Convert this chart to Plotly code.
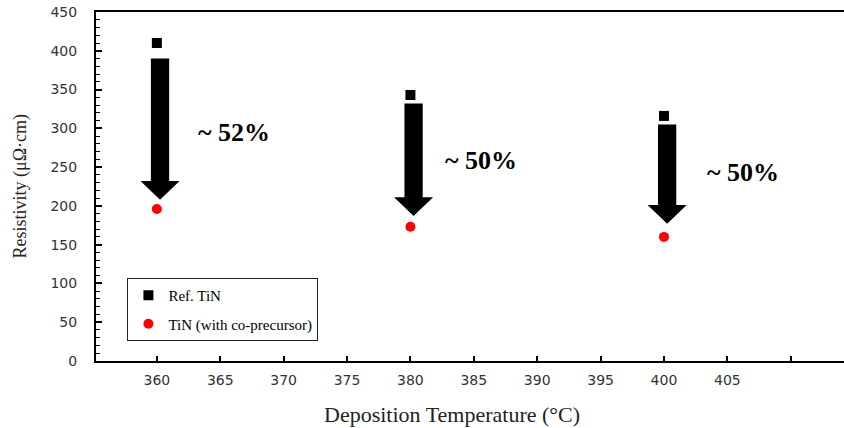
import plotly.graph_objects as go

temps = [360, 380, 400]
ref_tin = [410, 343, 316]
co_tin = [196, 173, 160]
reduction_labels = ["~ 52%", "~ 50%", "~ 50%"]
arrow_top = [390, 332, 305]
arrow_tip = [208, 187, 177]
label_x = [363.1, 382.6, 403.2]
label_y = [295, 258, 243]
x_ticks = [360, 365, 370, 375, 380, 385, 390, 395, 400, 405, 410]
x_ticklabels = ["360", "365", "370", "375", "380", "385", "390", "395", "400", "405", ""]
y_ticks = [0, 50, 100, 150, 200, 250, 300, 350, 400, 450]

fig = go.Figure()
fig.add_trace(go.Scatter(x=temps, y=ref_tin, mode="markers", name="Ref. TiN",
                         legendgroup="a",
                         marker=dict(symbol="square", size=10, color="black")))
fig.add_trace(go.Scatter(x=temps, y=co_tin, mode="markers", name="TiN (with co-precursor)",
                         legendgroup="b",
                         marker=dict(symbol="circle", size=10, color="#ff0000")))

shapes = []
off = 0.25
sw = 0.72
hw = 1.54
hh = 24
for x, top, tip in zip(temps, arrow_top, arrow_tip):
    cx = x + off
    hb = tip + hh
    path = (f"M {cx-sw} {top} L {cx+sw} {top} L {cx+sw} {hb} L {cx+hw} {hb} "
            f"L {cx} {tip} L {cx-hw} {hb} L {cx-sw} {hb} Z")
    shapes.append(dict(type="path", path=path, xref="x", yref="y",
                       fillcolor="black", line=dict(color="black", width=0)))

annotations = []
for lx, ly, t in zip(label_x, label_y, reduction_labels):
    annotations.append(dict(x=lx, y=ly, xref="x", yref="y", text=t, showarrow=False,
                            xanchor="left", yanchor="middle",
                            font=dict(family="Liberation Serif", size=26, color="black", weight="bold")))
annotations.append(dict(x=0, y=0.5, xref="paper", yref="paper", xshift=-76,
                        text="Resistivity (μΩ·cm)", textangle=-90, showarrow=False,
                        xanchor="center", yanchor="middle",
                        font=dict(family="Liberation Serif", size=18, color="#222")))
annotations.append(dict(x=0.476, y=0, xref="paper", yref="paper", yshift=-53,
                        text="Deposition Temperature (°C)", showarrow=False,
                        xanchor="center", yanchor="middle",
                        font=dict(family="Liberation Serif", size=22, color="#222")))

fig.update_layout(
    width=844, height=428,
    margin=dict(l=96, r=0, t=12, b=67, autoexpand=False),
    plot_bgcolor="white", paper_bgcolor="white",
    shapes=shapes, annotations=annotations,
    legend=dict(x=0.042, y=0.238, xanchor="left", yanchor="top",
                bordercolor="#222", borderwidth=1, bgcolor="white",
                tracegroupgap=6,
                font=dict(family="Liberation Serif", size=15, color="black")),
    xaxis=dict(range=[355.2, 414.2], tickvals=x_ticks, ticktext=x_ticklabels,
               showgrid=False, zeroline=False, showline=True, linecolor="black",
               linewidth=2, mirror=True, ticks="inside", ticklen=5, tickwidth=1.5,
               tickcolor="black", ticklabelstandoff=5, ticklabeloverflow="allow",
               automargin=False,
               tickfont=dict(family="DejaVu Sans", size=14, color="#333")),
    yaxis=dict(range=[0, 450], tickvals=y_ticks,
               showgrid=False, zeroline=False, showline=True, linecolor="black",
               linewidth=2, ticks="inside", ticklen=6, tickwidth=1.5,
               tickcolor="black", ticklabelstandoff=14, ticklabeloverflow="allow",
               automargin=False,
               minor=dict(dtick=10, ticks="inside", ticklen=4, tickcolor="black", tickwidth=1),
               tickfont=dict(family="DejaVu Sans", size=14, color="#333")),
)

fig.write_html("out.html", config={"displayModeBar": False},
               post_script="document.body.style.margin='0';document.body.style.overflow='hidden';")
